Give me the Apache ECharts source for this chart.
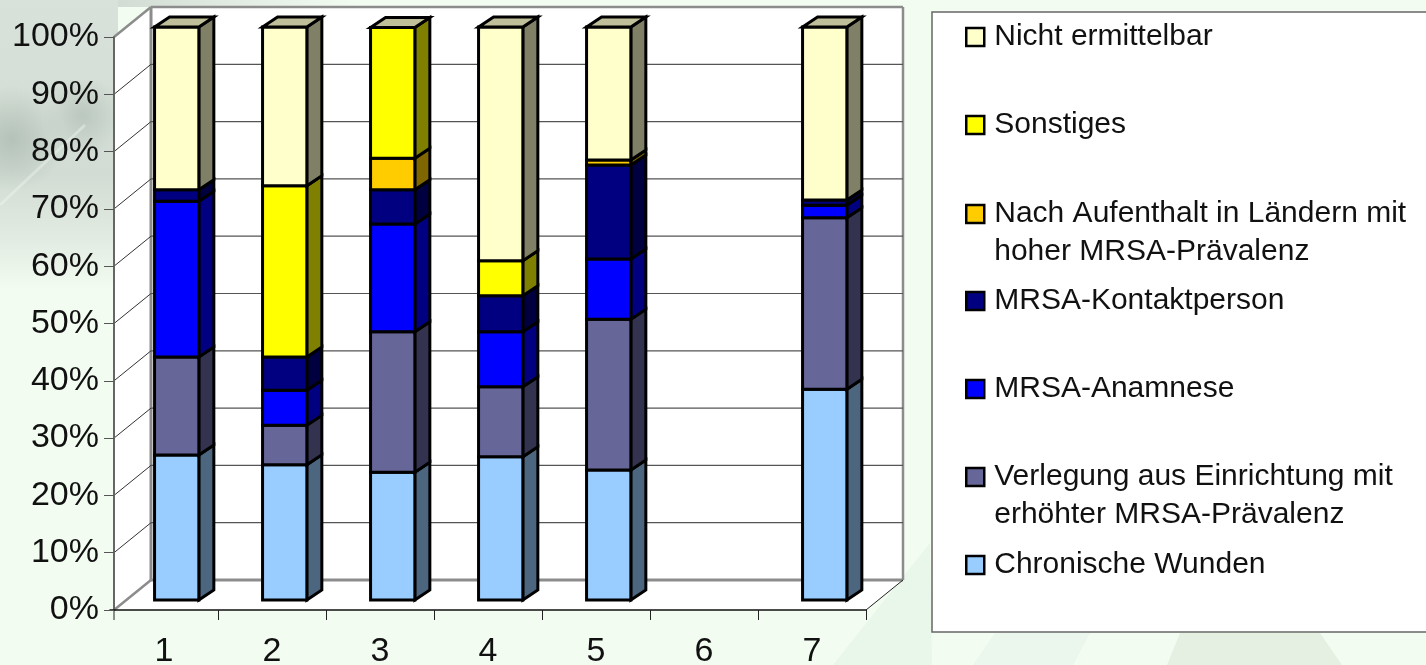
<!DOCTYPE html>
<html>
<head>
<meta charset="utf-8">
<style>
html,body{margin:0;padding:0;background:#f3fcf1;}
#chart{width:1426px;height:665px;}
</style>
<script src="https://cdn.jsdelivr.net/npm/echarts@6/dist/echarts.min.js"></script>
</head>
<body>
<div id="chart"></div>
<script>
// data, in % of each column
var categories = ['1','2','3','4','5','6','7'];
var tickLabels = [10,20,30,40,50,60,70,80,90];
var seriesNames = [
    'Chronische Wunden',
    'Verlegung aus Einrichtung mit erhöhter MRSA-Prävalenz',
    'MRSA-Anamnese',
    'MRSA-Kontaktperson',
    'Nach Aufenthalt in Ländern mit hoher MRSA-Prävalenz',
    'Sonstiges',
    'Nicht ermittelbar'
];
var chronisch = [25.3,23.6,22.3,25.0,22.7,0,36.8];
var verlegung = [17.1,6.9,24.5,12.2,26.3,0,29.9];
var anamnese = [27.2,6.1,18.8,9.6,10.5,0,2.2];
var kontakt = [2.0,5.8,6.0,6.3,16.4,0,0.9];
var aufenthalt = [0,0,5.5,0,0.9,0,0];
var sonstiges = [0,29.9,22.8,6.1,0,0,0];
var nicht = [28.4,27.7,0,40.8,23.2,0,30.2];
var seriesValues = [chronisch,verlegung,anamnese,kontakt,aufenthalt,sonstiges,nicht];

var frontColors = ['#99ccff','#666699','#0000ff','#000080','#ffcc00','#ffff00','#ffffcc'];
var sideColors = ['#4d6680','#333350','#000080','#000040','#806600','#808000','#808066'];
var topColor = '#bfbf99';
var fontName = '"Liberation Sans",Arial,sans-serif';

// 3d offsets in pixels
var wallDx = 37, wallDy = -30;
var barDx = 12.7, barDy = -10;
var sideDx = 15, sideDy = -10;
// the first band is cut short by the y axis
var inset = 4;

function poly(points,fill,stroke,width) {
    return {
        type:'polygon',
        shape:{points:points},
        style:{fill:fill,stroke:stroke,lineWidth:width,lineJoin:'miter'}
    };
}
function line(x1,y1,x2,y2,color,width) {
    return {
        type:'line',
        shape:{x1:x1,y1:y1,x2:x2,y2:y2},
        style:{stroke:color,lineWidth:width}
    };
}

//back wall, left wall and floor
function renderWalls(params,api) {
    var g = params.coordSys;
    var l = g.x+inset, r = g.x+g.width, t = g.y, b = g.y+g.height;
    var gray = '#8c8c8c';
    return {type:'group',children:[
        poly([[l+wallDx,t+wallDy],[r+wallDx,t+wallDy],[r+wallDx,b+wallDy],[l+wallDx,b+wallDy]],'#fff'),
        poly([[l,t],[l+wallDx,t+wallDy],[l+wallDx,b+wallDy],[l,b]],'#fff'),
        poly([[l,b],[l+wallDx,b+wallDy],[r+wallDx,b+wallDy],[r,b]],'#fff'),
        line(l+wallDx,t+wallDy,r+wallDx,t+wallDy,gray,2.5),
        line(l+wallDx,t+wallDy,l+wallDx,b+wallDy,gray,3),
        line(r+wallDx,t+wallDy,r+wallDx,b+wallDy,gray,2.5),
        line(l+wallDx,b+wallDy,r+wallDx,b+wallDy,gray,3),
        line(l,t,l+wallDx,t+wallDy,gray,2.5),
        line(l,b,l+wallDx,b+wallDy,gray,2.5),
        line(r,b,r+wallDx,b+wallDy,'#222',1),
        line(l,b,l,b+10,'#222',1)
    ]};
}

//gridlines run over the left wall and the back wall
function renderGrid(params,api) {
    var g = params.coordSys;
    var l = g.x+inset;
    var y = api.coord([0,api.value(0)])[1];
    return {type:'group',children:[
        line(l,y,l+wallDx,y+wallDy,'#333',1),
        line(l+wallDx,y+wallDy,g.x+g.width+wallDx,y+wallDy,'#555',1.2)
    ]};
}

function makeRenderBar(index) {
    return function (params,api) {
        var cat = api.value(0), base = api.value(1), end = api.value(2);
        var half = api.size([1,0])[0]*0.205;
        var p0 = api.coord([cat,base]), p1 = api.coord([cat,end]);
        var x0 = p0[0]+barDx-half, x1 = p0[0]+barDx+half;
        var y0 = p0[1]+barDy, y1 = p1[1]+barDy;
        var kids = [];
        if (end > base) {
            kids.push(poly([[x1,y0],[x1+sideDx,y0+sideDy],[x1+sideDx,y1+sideDy],[x1,y1]],sideColors[index],'#000',3));
            kids.push(poly([[x0,y0],[x1,y0],[x1,y1],[x0,y1]],frontColors[index],'#000',3));
        }
        //the roof sits on the last series, also if that part is empty
        if (index === seriesNames.length-1 && end > 0) {
            kids.push(poly([[x0,y1],[x1,y1],[x1+sideDx,y1+sideDy],[x0+sideDx,y1+sideDy]],topColor,'#000',3));
        }
        return {type:'group',children:kids};
    };
}

//stack the values into [category, from, to]
var running = categories.map(function () { return 0; });
var barSeries = seriesNames.map(function (name,i) {
    var rows = seriesValues[i].map(function (v,c) {
        var row = [c,running[c],running[c]+v];
        running[c] += v;
        return row;
    });
    return {
        type:'custom',
        name:name,
        z:5,
        clip:false,
        silent:true,
        itemStyle:{color:frontColors[i]},
        encode:{x:0,y:[1,2]},
        renderItem:makeRenderBar(i),
        data:rows
    };
});

var legendTops = [37,125,214,301,389,477,565];
var wrapped = {};
wrapped[seriesNames[1]] = '\nVerlegung aus Einrichtung mit\nerhöhter MRSA-Prävalenz';
wrapped[seriesNames[4]] = '\nNach Aufenthalt in Ländern mit\nhoher MRSA-Prävalenz';
var legendList = seriesNames.slice().reverse().map(function (name,i) {
    var lines = wrapped[name] ? 3 : 1;
    return {
        data:[name],
        orient:'vertical',
        left:965,
        top:legendTops[i]-lines*19-2,
        padding:0,
        icon:'rect',
        itemWidth:18,
        itemHeight:18,
        selectedMode:false,
        itemStyle:{borderColor:'#000',borderWidth:2.5},
        textStyle:{fontFamily:fontName,fontSize:30,lineHeight:38,color:'#111',padding:[4,0,0,5]},
        formatter:function (n) { return wrapped[n] || n; }
    };
});

function soft(cx,cy,r,color,clear) {
    return {type:'radial',x:cx,y:cy,r:r,colorStops:[{offset:0,color:color},{offset:1,color:clear}]};
}

//faint picture behind the chart
var background = [
    {type:'rect',z:-10,shape:{x:0,y:0,width:1426,height:665},style:{fill:'#f3fcf1'}},
    {type:'polygon',z:-9,shape:{points:[[833,665],[930,543],[932,665]]},style:{fill:'#e9f6ea'}},
    {type:'polygon',z:-9,shape:{points:[[973,665],[995,633],[1090,633],[1073,665]]},style:{fill:'#ebf7ec'}},
    {type:'polygon',z:-9,shape:{points:[[1167,665],[1180,633],[1320,633],[1342,665]]},style:{fill:'#e5f0e3'}},
    {type:'rect',z:-9,shape:{x:0,y:0,width:118,height:290},style:{fill:{
        type:'linear',x:0,y:0,x2:0,y2:1,
        colorStops:[{offset:0,color:'#d9e2da'},{offset:0.6,color:'#d2dcd4'},{offset:0.82,color:'#e2ebe1'},{offset:1,color:'#f3fcf1'}]
    }}},
    {type:'rect',z:-8,shape:{x:0,y:40,width:118,height:180},style:{fill:soft(0.1,0.55,0.45,'rgba(170,185,175,0.75)','rgba(170,185,175,0)')}},
    {type:'rect',z:-8,shape:{x:30,y:80,width:88,height:80},style:{fill:soft(0.6,0.45,0.5,'rgba(170,185,175,0.6)','rgba(170,185,175,0)')}},
    {type:'line',z:-8,shape:{x1:0,y1:205,x2:85,y2:125},style:{stroke:'rgba(238,246,238,0.45)',lineWidth:3}},
    {type:'rect',z:-9,shape:{x:118,y:0,width:240,height:7},style:{fill:{
        type:'linear',x:0,y:0,x2:1,y2:0,
        colorStops:[{offset:0,color:'#d2dcd4'},{offset:1,color:'#f3fcf1'}]
    }}},
    //legend box runs off the right edge
    {type:'rect',z:1,shape:{x:932,y:12,width:520,height:620},style:{fill:'#fff',stroke:'#666',lineWidth:1.5}}
];

var chart = echarts.init(document.getElementById('chart'));
chart.setOption({
    animation:false,
    backgroundColor:'transparent',
    graphic:background,
    legend:legendList,
    grid:{left:110,right:560,top:37,bottom:55,outerBoundsMode:'none'},
    xAxis:{
        type:'category',
        data:categories,
        z:3,
        axisLine:{lineStyle:{color:'#111',width:1.5}},
        axisTick:{
            show:true,
            length:10,
            alignWithLabel:false,
            interval:function (index) { return index > 0; },
            lineStyle:{color:'#222',width:1}
        },
        axisLabel:{fontFamily:fontName,fontSize:34,color:'#111',margin:25,interval:0},
        splitLine:{show:false}
    },
    yAxis:{
        type:'value',
        min:0,
        max:100,
        interval:10,
        offset:-inset,
        z:3,
        axisLine:{show:true,lineStyle:{color:'#666',width:2}},
        axisTick:{show:true,length:10,lineStyle:{color:'#555',width:1}},
        axisLabel:{fontFamily:fontName,fontSize:34,color:'#111',margin:15,padding:[3,0,0,0],formatter:'{value}%'},
        splitLine:{show:false}
    },
    series:[
        {type:'custom',z:1,silent:true,clip:false,renderItem:renderWalls,data:[[0]],encode:{y:0}},
        {type:'custom',z:1,silent:true,clip:false,renderItem:renderGrid,data:tickLabels.map(function (v) { return [v]; }),encode:{y:0}}
    ].concat(barSeries)
});
</script>
</body>
</html>
